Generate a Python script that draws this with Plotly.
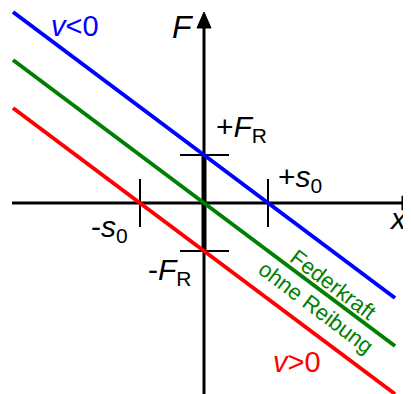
import plotly.graph_objects as go

# --- data (units: arbitrary, origin at axes crossing) ---
x_ends = [-191, 191]
F_no_friction = [143, -143]      # Federkraft ohne Reibung
F_v_neg = [191, -95]             # v<0  (shifted up by +F_R)
F_v_pos = [95, -191]             # v>0  (shifted down by -F_R)
F_R = 48
s0 = 64

BLUE, GREEN, RED = "#0000ff", "#008000", "#ff0000"
FONT = "Liberation Sans, Arial, sans-serif"

fig = go.Figure()
for ys, col in [(F_v_neg, BLUE), (F_no_friction, GREEN), (F_v_pos, RED)]:
    fig.add_trace(go.Scatter(x=x_ends, y=ys, mode="lines",
                             line=dict(color=col, width=4), showlegend=False,
                             hoverinfo="skip"))

shapes = []
# axes
shapes.append(dict(type="line", xref="x", yref="y", x0=-192, x1=205, y0=0, y1=0,
                   line=dict(color="black", width=3), layer="below"))
shapes.append(dict(type="line", xref="x", yref="y", x0=0, x1=0, y0=-205, y1=180,
                   line=dict(color="black", width=3), layer="below"))
# thick segment between -F_R and +F_R
shapes.append(dict(type="line", xref="x", yref="y", x0=0, x1=0, y0=-F_R, y1=F_R,
                   line=dict(color="black", width=5), layer="below"))
# arrow heads
shapes.append(dict(type="path", xref="x", yref="y",
                   path="M -7,175 L 7,175 L 0,191 Z", fillcolor="black",
                   line=dict(color="black", width=1)))
shapes.append(dict(type="path", xref="x", yref="y",
                   path="M 198,-7 L 198,7 L 218,0 Z", fillcolor="black",
                   line=dict(color="black", width=1)))
# tick marks
for fy in (F_R, -F_R):
    shapes.append(dict(type="line", xref="x", yref="y", x0=-24, x1=25, y0=fy, y1=fy,
                       line=dict(color="black", width=2), layer="below"))
for sx in (s0, -s0):
    shapes.append(dict(type="line", xref="x", yref="y", x0=sx, x1=sx, y0=-24, y1=24,
                       line=dict(color="black", width=2), layer="below"))

ann = []
def A(x, y, text, color="black", size=30, angle=0, xanchor="center", yanchor="middle"):
    ann.append(dict(x=x, y=y, xref="x", yref="y", text=text, showarrow=False,
                    font=dict(family=FONT, size=size, color=color),
                    textangle=angle, xanchor=xanchor, yanchor=yanchor))

A(-129, 177, "<i>v</i>&lt;0", BLUE, 29)
A(-21, 176, "<i>F</i>", "black", 32)
A(37, 75, "+<i>F</i><sub>R</sub>")
A(96, 25, "+<i>s</i><sub>0</sub>")
A(-95, -25, "-<i>s</i><sub>0</sub>")
A(-34, -68, "-<i>F</i><sub>R</sub>")
A(194, -15, "<i>x</i>")
A(93, -159, "<i>v</i>&gt;0", RED, 29)
A(120, -93, "Federkraft<br>ohne Reibung", GREEN, 22, angle=37)

# page body has an 8px margin: shift the mapping so the origin lands at (204, 203)
fig.update_layout(
    width=411, height=394, margin=dict(l=0, r=0, t=0, b=0),
    paper_bgcolor="white", plot_bgcolor="white",
    xaxis=dict(range=[-196, 215], visible=False, fixedrange=True),
    yaxis=dict(range=[-199, 195], visible=False, fixedrange=True),
    shapes=shapes, annotations=ann, showlegend=False,
)
fig.write_html("out.html")
